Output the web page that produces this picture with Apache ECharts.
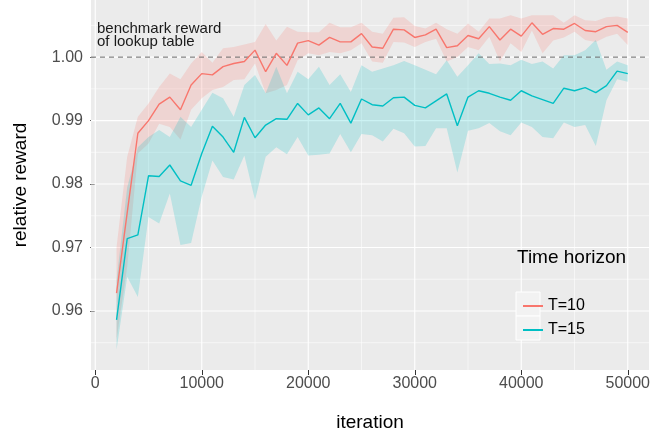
<!DOCTYPE html>
<html>
<head>
    <meta charset="utf-8">
    <title>relative reward</title>
    <script type="text/javascript" src="https://cdn.jsdelivr.net/npm/echarts@6/dist/echarts.min.js"></script>
    <style type="text/css">
        body{ margin:0; background:#fff; }
        #main{ width:653px; height:438px; }
    </style>
</head>
<body>
<div id="main"></div>
<script type="text/javascript">
// iterations (x)
var iters = [2000,3000,4000,5000,6000,7000,8000,9000,10000,11000,12000,13000,14000,15000,16000,17000,18000,19000,20000,
    21000,22000,23000,24000,25000,26000,27000,28000,29000,30000,31000,32000,33000,34000,35000,36000,37000,38000,39000,40000,
    41000,42000,43000,44000,45000,46000,47000,48000,49000,50000];

// T=10
var t10Mean = [0.9628,0.9755,0.9880,0.9900,0.9926,0.9937,0.9917,0.9956,0.9974,0.9972,0.9985,0.9990,0.9993,1.0011,0.9977,1.0006,0.9987,1.0022,1.0026,
    1.0019,1.0031,1.0024,1.0024,1.0037,1.0016,1.0014,1.0044,1.0043,1.0031,1.0035,1.0044,1.0015,1.0018,1.0034,1.0029,1.0048,1.0027,1.0044,1.0033,
    1.0054,1.0036,1.0045,1.0044,1.0053,1.0042,1.0040,1.0048,1.0050,1.0039];
var t10Upper = [0.9701,0.9843,0.9906,0.9927,0.9953,0.9974,0.9965,0.9990,1.0008,0.9991,1.0014,1.0016,1.0020,1.0024,1.0052,1.0026,1.0048,1.0040,1.0039,
    1.0039,1.0054,1.0047,1.0047,1.0054,1.0040,1.0037,1.0062,1.0063,1.0049,1.0045,1.0054,1.0044,1.0037,1.0053,1.0040,1.0061,1.0061,1.0066,1.0061,
    1.0066,1.0066,1.0066,1.0054,1.0066,1.0058,1.0057,1.0063,1.0064,1.0061];
var t10Lower = [0.9555,0.9670,0.9848,0.9864,0.9895,0.9890,0.9870,0.9917,0.9935,0.9948,0.9953,0.9964,0.9965,0.9990,0.9943,0.9948,0.9956,0.9995,1.0006,
    1.0003,1.0008,1.0006,1.0011,1.0022,0.9993,0.9991,1.0024,1.0023,1.0016,1.0024,1.0029,0.9993,1.0000,1.0016,1.0011,1.0032,0.9993,1.0022,1.0008,
    1.0042,1.0006,1.0026,1.0031,1.0040,1.0027,1.0024,1.0032,1.0037,1.0019];

// T=15
var t15Mean = [0.9586,0.9714,0.9720,0.9813,0.9812,0.9830,0.9805,0.9798,0.9848,0.9891,0.9874,0.9850,0.9905,0.9873,0.9893,0.9903,0.9902,0.9927,0.9909,
    0.9920,0.9903,0.9927,0.9896,0.9934,0.9925,0.9923,0.9936,0.9937,0.9924,0.9920,0.9931,0.9942,0.9892,0.9937,0.9947,0.9943,0.9937,0.9932,0.9947,
    0.9939,0.9933,0.9927,0.9951,0.9947,0.9952,0.9944,0.9955,0.9978,0.9974];
var t15Upper = [0.9649,0.9795,0.9858,0.9874,0.9885,0.9874,0.9906,0.9890,0.9917,0.9944,0.9935,0.9906,0.9956,0.9972,0.9943,0.9985,0.9943,0.9977,0.9965,
    0.9985,0.9956,0.9973,0.9945,0.9987,0.9977,0.9982,0.9987,0.9994,0.9987,0.9980,0.9973,0.9995,0.9969,0.9987,1.0006,0.9989,0.9990,0.9987,0.9996,
    0.9989,0.9993,0.9982,1.0003,1.0003,1.0011,1.0027,0.9980,0.9993,0.9987];
var t15Lower = [0.9539,0.9654,0.9622,0.9748,0.9738,0.9785,0.9704,0.9707,0.9780,0.9837,0.9811,0.9807,0.9845,0.9775,0.9843,0.9858,0.9847,0.9874,0.9845,
    0.9846,0.9848,0.9879,0.9850,0.9879,0.9877,0.9867,0.9887,0.9880,0.9859,0.9860,0.9888,0.9888,0.9818,0.9884,0.9888,0.9896,0.9883,0.9877,0.9897,
    0.9890,0.9874,0.9872,0.9897,0.9890,0.9893,0.9860,0.9932,0.9965,0.9961];

// ticks / grid
var xTicks = [0,10000,20000,30000,40000,50000];
var xMinor = [5000,15000,25000,35000,45000];
var yTicks = [0.96,0.97,0.98,0.99,1.00];
var yMinor = [0.955,0.965,0.975,0.985,0.995,1.005];
var benchmark = 1.00;

var red = '#F8766D', teal = '#00BFC4';

function pairs(v){ return iters.map(function(x,i){ return [x, v[i]]; }); }

// grid lines: [axis (0 = x, 1 = y), value, width]
var gridData = [];
xTicks.forEach(function(v){ gridData.push([0, v, 1.1]); });
xMinor.forEach(function(v){ gridData.push([0, v, 0.55]); });
yTicks.forEach(function(v){ gridData.push([1, v, 1.1]); });
yMinor.forEach(function(v){ gridData.push([1, v, 0.55]); });

function gridLine(params, api){
    var cs = params.coordSys;
    var dir = api.value(0), v = api.value(1), w = api.value(2);
    if (dir === 0) {
        var x = api.coord([v, benchmark])[0];
        return { type:'line', silent:true, shape:{ x1:x, y1:cs.y, x2:x, y2:cs.y + cs.height },
            style:{ stroke:'#fff', lineWidth:w } };
    }
    var y = api.coord([0, v])[1];
    return { type:'line', silent:true, shape:{ x1:cs.x, y1:y, x2:cs.x + cs.width, y2:y },
        style:{ stroke:'#fff', lineWidth:w } };
}

function band(upper, lower, fill){
    return {
        type:'custom', silent:true, z:2, clip:true,
        data:[[iters[0], upper[0]]],
        renderItem:function(params, api){
            var pts = [];
            for (var i = 0; i < iters.length; i++) pts.push(api.coord([iters[i], upper[i]]));
            for (var j = iters.length - 1; j >= 0; j--) pts.push(api.coord([iters[j], lower[j]]));
            return { type:'polygon', silent:true, shape:{ points:pts }, style:{ fill:fill } };
        }
    };
}

var container = document.getElementById('main');
var myChart = echarts.init(container);

var option = {
    animation:false,
    textStyle:{ fontFamily:'Liberation Sans' },
    grid:{
        left:91, right:0, top:0, bottom:68,
        show:true, backgroundColor:'#EBEBEB', borderWidth:0
    },
    xAxis:{
        type:'value', min:-400, max:52000,
        name:'iteration', nameLocation:'middle', nameGap:43,
        nameTextStyle:{ fontSize:19, color:'#000' },
        axisLine:{ show:false },
        axisTick:{ show:true, customValues:xTicks, length:5, lineStyle:{ color:'#333', width:1 } },
        axisLabel:{ customValues:xTicks, fontSize:16, color:'#4D4D4D', margin:6,
            formatter:function(v){ return String(v); } },
        splitLine:{ show:false }
    },
    yAxis:{
        type:'value', min:0.9507, max:1.0090,
        name:'relative reward', nameLocation:'middle', nameGap:61,
        nameTextStyle:{ fontSize:19, color:'#000' },
        axisLine:{ show:false },
        axisTick:{ show:true, customValues:yTicks, length:5, lineStyle:{ color:'#333', width:1 } },
        axisLabel:{ customValues:yTicks, fontSize:16, color:'#4D4D4D', margin:8,
            formatter:function(v){ return v.toFixed(2); } },
        splitLine:{ show:false }
    },
    legend:{
        data:['T=10','T=15'],
        orient:'vertical', left:518, top:289, z:10,
        icon:'rect', itemWidth:20, itemHeight:2, itemGap:0,
        textStyle:{ fontSize:16, color:'#000', lineHeight:24 },
        selectedMode:false
    },
    graphic:[
        { type:'rect', z:5, shape:{ x:516, y:292, width:24, height:24 }, style:{ fill:'#F2F2F2', stroke:'#fff', lineWidth:1 } },
        { type:'rect', z:5, shape:{ x:516, y:316, width:24, height:24 }, style:{ fill:'#F2F2F2', stroke:'#fff', lineWidth:1 } },
        { type:'text', z:5, x:517, y:258, style:{ text:'Time horizon', fontSize:19, fill:'#000',
            fontFamily:'Liberation Sans', verticalAlign:'middle' } },
        { type:'text', z:5, x:97, y:22, style:{ text:'benchmark reward\nof lookup table', fontSize:15, lineHeight:13.5,
            fill:'#1a1a1a', fontFamily:'Liberation Sans' } }
    ],
    series:[
        {
            name:'grid', type:'custom', silent:true, z:1,
            data:gridData, renderItem:gridLine
        },
        band(t10Upper, t10Lower, 'rgba(248,118,109,0.2)'),
        band(t15Upper, t15Lower, 'rgba(0,191,196,0.2)'),
        {
            name:'benchmark', type:'custom', silent:true, z:3,
            data:[[0, benchmark]],
            renderItem:function(params, api){
                var cs = params.coordSys;
                var y = api.coord([0, api.value(1)])[1];
                return { type:'line', silent:true, shape:{ x1:cs.x, y1:y, x2:cs.x + cs.width, y2:y },
                    style:{ stroke:'#666', lineWidth:1, lineDash:[5,4] } };
            }
        },
        {
            name:'T=10', type:'line', data:pairs(t10Mean), z:4,
            showSymbol:false, color:red, lineStyle:{ color:red, width:1.4 }
        },
        {
            name:'T=15', type:'line', data:pairs(t15Mean), z:4,
            showSymbol:false, color:teal, lineStyle:{ color:teal, width:1.4 }
        }
    ]
};

myChart.setOption(option);
</script>
</body>
</html>
